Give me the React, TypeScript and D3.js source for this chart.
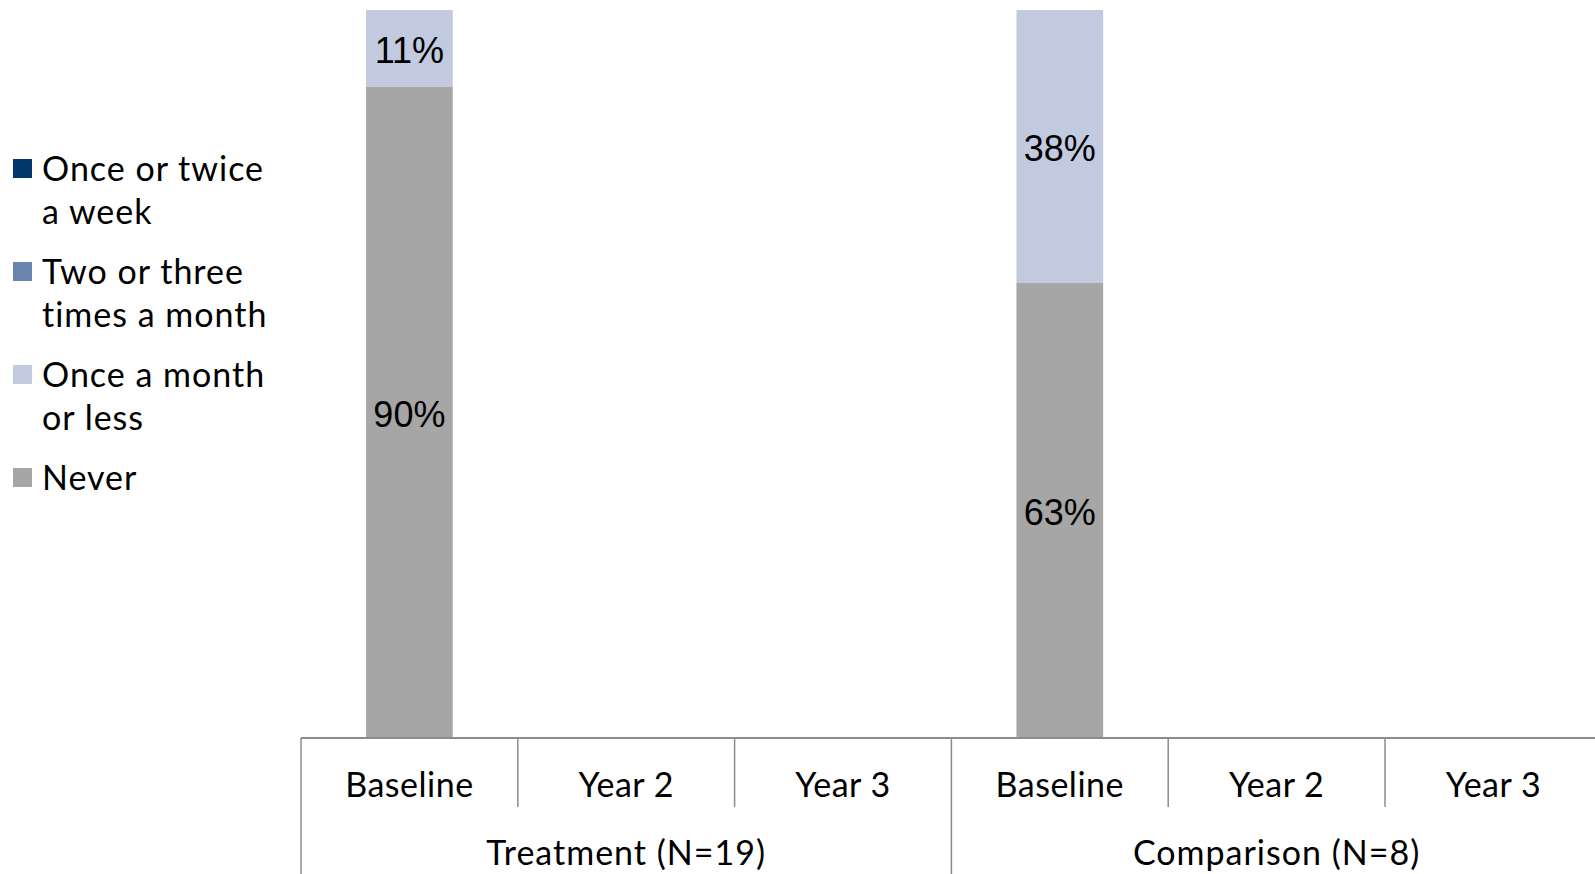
import React from "react";
import * as d3 from "d3";

const groups = ["Treatment (N=19)", "Comparison (N=8)"];
const periods = ["Baseline", "Year 2", "Year 3"];
const categories = groups.flatMap((g, gi) => periods.map((p) => `${gi}|${p}`));

const seriesNames = ["Once or twice a week", "Two or three times a month", "Once a month or less", "Never"];
const legendLines = [["Once or twice", "a week"], ["Two or three", "times a month"], ["Once a month", "or less"], ["Never"]];
const seriesColors = ["#00386B", "#6A84AD", "#C1CADF", "#A6A6A6"];

// values per category (Treatment Baseline, Y2, Y3, Comparison Baseline, Y2, Y3)
const weekly: (number | null)[] = [0, null, null, 0, null, null];
const twoThree: (number | null)[] = [0, null, null, 0, null, null];
const monthly: (number | null)[] = [10.5, null, null, 37.5, null, null];
const never: (number | null)[] = [89.5, null, null, 62.5, null, null];

const W = 1595;
const H = 874;
const axisY = 738;
const plotTop = 10;
const xLeft = 301;
const catW = 216.8;

export default function App() {
  const x = d3.scaleBand<string>().domain(categories).range([xLeft, xLeft + catW * categories.length]).padding(0);
  const y = d3.scaleLinear().domain([0, 100]).range([axisY, plotTop]);
  const bw = x.bandwidth();

  const stackOrder = [never, monthly, twoThree, weekly];
  const stackColors = [seriesColors[3], seriesColors[2], seriesColors[1], seriesColors[0]];

  const bars: React.ReactNode[] = [];
  categories.forEach((c, ci) => {
    let base = 0;
    stackOrder.forEach((arr, si) => {
      const v = arr[ci];
      if (v == null || v <= 0) return;
      const y0 = y(base);
      const y1 = y(base + v);
      const bx = (x(c) as number) + bw * 0.3;
      bars.push(
        <g key={`${ci}-${si}`}>
          <rect x={bx} y={y1} width={bw * 0.4} height={y0 - y1} fill={stackColors[si]} />
          <text
            x={bx + bw * 0.2}
            y={(y0 + y1) / 2}
            dy="0.4em"
            textAnchor="middle"
            fontFamily="'Liberation Sans', Arial, sans-serif"
            fontSize={36}
            fill="#000"
          >
            {Math.round(v)}%
          </text>
        </g>
      );
      base += v;
    });
  });

  const axisColor = "#8C8C8C";
  const labelFont = "Lato, 'Open Sans', sans-serif";

  return (
    <svg width={W} height={H} style={{ position: "absolute", left: 0, top: 0 }}>
      <rect width={W} height={H} fill="#fff" />
      {bars}
      {/* axis */}
      <line x1={xLeft} x2={W} y1={axisY} y2={axisY} stroke={axisColor} strokeWidth={2} />
      {categories.map((c, ci) => {
        const cx = x(c) as number;
        const isGroupStart = ci % periods.length === 0;
        return (
          <line
            key={`t${ci}`}
            x1={cx}
            x2={cx}
            y1={axisY}
            y2={isGroupStart ? H : 807}
            stroke={axisColor}
            strokeWidth={1.5}
          />
        );
      })}
      {categories.map((c, ci) => (
        <text
          key={`l${ci}`}
          x={(x(c) as number) + bw / 2}
          y={785}
          dy="0.35em"
          textAnchor="middle"
          fontFamily={labelFont}
          fontSize={34}
          letterSpacing={0.5}
          fill="#000"
        >
          {periods[ci % periods.length]}
        </text>
      ))}
      {groups.map((g, gi) => {
        const start = x(categories[gi * periods.length]) as number;
        return (
          <text
            key={`g${gi}`}
            x={start + (bw * periods.length) / 2}
            y={853}
            dy="0.35em"
            textAnchor="middle"
            fontFamily={labelFont}
            fontSize={34}
            letterSpacing={1}
            fill="#000"
          >
            {g}
          </text>
        );
      })}
      {/* legend */}
      {seriesNames.map((s, si) => {
        const top = 169 + si * 103;
        return (
          <g key={`lg${si}`}>
            <rect x={13} y={top - 10} width={19} height={19} fill={seriesColors[si]} />
            {legendLines[si].map((ln, li) => (
              <text
                key={li}
                x={42}
                y={top + li * 43}
                dy="0.35em"
                fontFamily={labelFont}
                fontSize={34}
                letterSpacing={1}
                fill="#000"
              >
                {ln}
              </text>
            ))}
          </g>
        );
      })}
    </svg>
  );
}
